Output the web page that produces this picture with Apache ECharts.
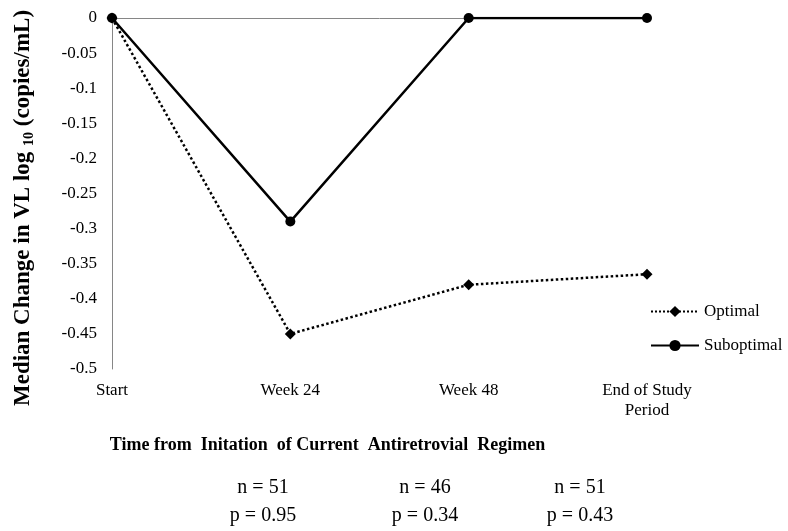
<!DOCTYPE html>
<html>
<head>
<meta charset="utf-8">
<script src="https://cdn.jsdelivr.net/npm/echarts@6/dist/echarts.min.js"></script>
<style>
html,body{margin:0;padding:0;background:#fff;}
#chart{width:788px;height:531px;}
</style>
</head>
<body>
<div id="chart"></div>
<script>
const categories = ['Start', 'Week 24', 'Week 48', 'End of Study\nPeriod'];
const optimal = [0, -0.45, -0.38, -0.365];
const suboptimal = [0, -0.29, 0, 0];
const nLabels = ['n = 51', 'n = 46', 'n = 51'];
const pLabels = ['p = 0.95', 'p = 0.34', 'p = 0.43'];
const seriesNames = ['Optimal', 'Suboptimal'];

const FONT = "'Liberation Serif', 'Times New Roman', serif";
const chart = echarts.init(document.getElementById('chart'));

const statCenters = [263, 425, 580];
const graphics = [];
nLabels.forEach((t, i) => {
  graphics.push({type: 'text', x: statCenters[i], y: 488, style: {text: t, font: '20px ' + FONT, fill: '#000', align: 'center', verticalAlign: 'middle'}});
  graphics.push({type: 'text', x: statCenters[i], y: 516, style: {text: pLabels[i], font: '20px ' + FONT, fill: '#000', align: 'center', verticalAlign: 'middle'}});
});

chart.setOption({
  animation: false,
  backgroundColor: '#fff',
  textStyle: {fontFamily: FONT, color: '#000'},
  grid: {left: 112, top: 18, right: 141, bottom: 162},
  legend: {
    orient: 'vertical', left: 645, top: 298, itemWidth: 48, itemHeight: 14, itemGap: 17,
    textStyle: {fontFamily: FONT, fontSize: 17, color: '#000'},
    data: seriesNames
  },
  xAxis: [{
    type: 'category', data: categories, boundaryGap: false, position: 'bottom',
    axisLine: {show: false}, axisTick: {show: false},
    axisLabel: {fontFamily: FONT, fontSize: 17, color: '#000', margin: 12, lineHeight: 20},
    name: 'Time from  Initation  of Current  Antiretrovial  Regimen',
    nameLocation: 'middle', nameGap: 67,
    nameTextStyle: {fontFamily: FONT, fontSize: 18, fontWeight: 'bold', color: '#000', padding: [0, 104, 0, 0]}
  }, {
    type: 'category', data: categories, boundaryGap: false, position: 'top',
    axisLine: {show: true, onZero: false, lineStyle: {color: '#868686', width: 1}},
    axisTick: {show: false}, axisLabel: {show: false}
  }],
  yAxis: {
    type: 'value', min: -0.5, max: 0, interval: 0.05,
    axisLine: {show: true, lineStyle: {color: '#868686', width: 1}},
    axisTick: {show: false}, splitLine: {show: false},
    axisLabel: {fontFamily: FONT, fontSize: 17, color: '#000', margin: 15,
      formatter: v => String(+v.toFixed(2))},
    name: '{b|Median Change in VL log }{s|10}{b| (copies/mL)}',
    nameLocation: 'middle', nameGap: 76, nameRotate: 90,
    nameTextStyle: {
      padding: [0, 29, 0, 0],
      rich: {
        b: {fontFamily: FONT, fontSize: 23, fontWeight: 'bold', color: '#000', lineHeight: 26},
        s: {fontFamily: FONT, fontSize: 14, fontWeight: 'bold', color: '#000', lineHeight: 16, padding: [12, 0, 0, 0]}
      }
    }
  },
  series: [{
    name: seriesNames[0], type: 'line', data: optimal,
    symbol: 'diamond', symbolSize: 11,
    lineStyle: {color: '#000', width: 2.5, type: 'dotted'},
    itemStyle: {color: '#000'}
  }, {
    name: seriesNames[1], type: 'line', data: suboptimal,
    symbol: 'circle', symbolSize: 10,
    lineStyle: {color: '#000', width: 2.5, type: 'solid'},
    itemStyle: {color: '#000'}
  }],
  graphic: graphics
});
</script>
</body>
</html>
